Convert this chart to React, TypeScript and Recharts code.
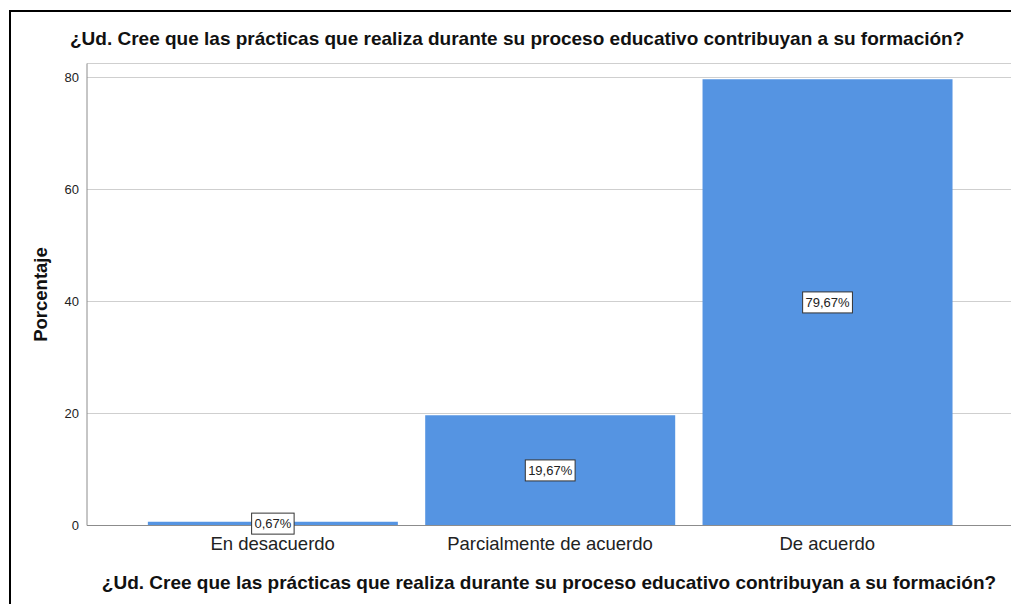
import React from "react";
import { BarChart, Bar, XAxis, YAxis, CartesianGrid, LabelList } from "recharts";

const categories = ["En desacuerdo", "Parcialmente de acuerdo", "De acuerdo"];
const percentages = [0.67, 19.67, 79.67];
const yTicks = [0, 20, 40, 60, 80];

const question =
  "¿Ud. Cree que las prácticas que realiza durante su proceso educativo contribuyan a su formación?";

const chartData = categories.map((name, i) => ({ name, value: percentages[i] }));

const FONT = "'Liberation Sans', Arial, sans-serif";

// boxed value label in the middle of each bar, like the SPSS output
const BoxLabel = (props: any) => {
  const { x, y, width, height, value } = props;
  const text = `${Number(value).toFixed(2).replace(".", ",")}%`;
  const cx = x + width / 2;
  const cy = y + height / 2;
  const w = text.length * 7.3 + 6;
  const h = 21;
  return (
    <g>
      <rect x={cx - w / 2} y={cy - h / 2} width={w} height={h} fill="#fff" stroke="#333" strokeWidth={1} />
      <text x={cx} y={cy + 4.5} textAnchor="middle" fontSize={13} fontFamily={FONT} fill="#222">
        {text}
      </text>
    </g>
  );
};

export default function App() {
  return (
    <div style={{ position: "absolute", left: 0, top: 0, width: 1011, height: 604, background: "#fff", overflow: "hidden" }}>
      <div
        style={{
          position: "absolute",
          left: 9,
          top: 10,
          width: 1011,
          height: 604,
          borderTop: "2px solid #000",
          borderLeft: "2px solid #000",
        }}
      />
      <div
        style={{
          position: "absolute",
          left: 70,
          top: 28,
          fontFamily: FONT,
          fontWeight: "bold",
          fontSize: 19,
          color: "#111",
          whiteSpace: "nowrap",
        }}
      >
        {question}
      </div>
      <div style={{ position: "absolute", left: 0, top: 0 }}>
        <BarChart
          width={1011}
          height={604}
          data={chartData}
          margin={{ top: 63.5, right: 0, left: 0, bottom: 0 }}
          barCategoryGap="5%"
        >
          <CartesianGrid horizontal vertical={false} stroke="#cfcfcf" />
          <XAxis
            dataKey="name"
            height={78.5}
            padding={{ left: 47, right: 45 }}
            stroke="#8c8c8c"
            tickLine={false}
            tick={{ fill: "#222", fontSize: 18.5, fontFamily: FONT }}
            tickMargin={5}
            label={{
              value: question,
              position: "insideBottom",
              offset: 15,
              style: { fontFamily: FONT, fontWeight: "bold", fontSize: 19, fill: "#111" },
            }}
          />
          <YAxis
            width={87}
            domain={[0, 82.5]}
            ticks={yTicks}
            stroke="#8c8c8c"
            tickLine={false}
            tick={{ fill: "#222", fontSize: 13, fontFamily: FONT }}
            label={{
              value: "Porcentaje",
              angle: -90,
              position: "insideLeft",
              offset: 40,
              style: { textAnchor: "middle", fontFamily: FONT, fontWeight: "bold", fontSize: 18.5, fill: "#111" },
            }}
          />
          <Bar dataKey="value" fill="#5594e2" isAnimationActive={false}>
            <LabelList dataKey="value" content={BoxLabel} />
          </Bar>
        </BarChart>
      </div>
    </div>
  );
}
